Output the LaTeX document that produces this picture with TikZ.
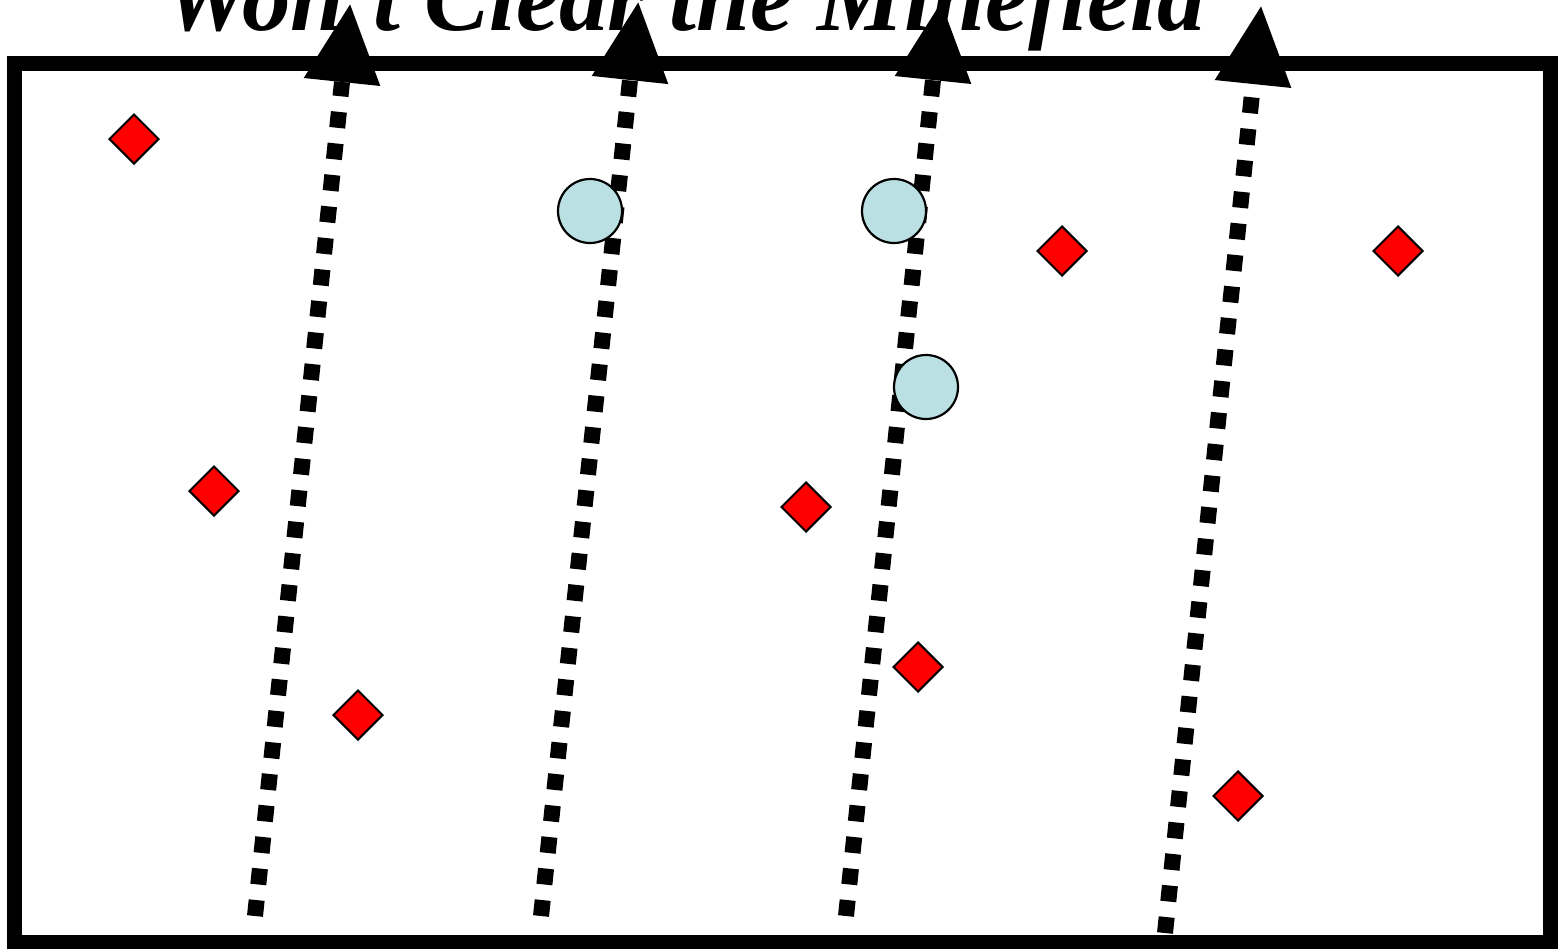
\documentclass[tikz,border=0pt]{standalone}
\usepackage{fontspec}
\setmainfont{Liberation Serif}
\usetikzlibrary{calc,shapes.geometric}
\definecolor{mineblue}{HTML}{BBE0E3}
\begin{document}
\begin{tikzpicture}[x=1pt,y=-1pt,
  frame/.style={line width=15pt},
  trail/.style={line width=16pt, dash pattern=on 16pt off 15.7pt},
  headtip/.style={fill=black},
  mine/.style={diamond, draw=black, line width=2pt, fill=red, inner sep=0pt, minimum size=50pt},
  buoy/.style={circle, draw=black, line width=2.2pt, fill=mineblue, inner sep=0pt, minimum size=64pt},
  titletext/.style={anchor=base west, inner sep=0pt, font=\fontsize{97}{100}\selectfont\bfseries\itshape}]
\useasboundingbox (0,0) rectangle (1565,948);
% frame
\draw[frame] (14.5,63) rectangle (1550.5,942.5);
% trail end points
\coordinate (a1) at (255,916);
\coordinate (b1) at (342,82);
\coordinate (a2) at (541,916);
\coordinate (b2) at (630,80);
\coordinate (a3) at (846,916);
\coordinate (b3) at (933,80);
\coordinate (a4) at (1165,933);
\coordinate (b4) at (1253,84);
% trails
\draw[trail] (a1) -- (b1);
\draw[trail] (a2) -- (b2);
\draw[trail] (a3) -- (b3);
\draw[trail] (a4) -- (b4);
% arrow heads
\fill[headtip] ($(b1)!-78pt!(a1)$) -- ($(b1)!38.5pt!90:(a1)$) -- ($(b1)!38.5pt!-90:(a1)$) -- cycle;
\fill[headtip] ($(b2)!-78pt!(a2)$) -- ($(b2)!38.5pt!90:(a2)$) -- ($(b2)!38.5pt!-90:(a2)$) -- cycle;
\fill[headtip] ($(b3)!-78pt!(a3)$) -- ($(b3)!38.5pt!90:(a3)$) -- ($(b3)!38.5pt!-90:(a3)$) -- cycle;
\fill[headtip] ($(b4)!-78pt!(a4)$) -- ($(b4)!38.5pt!90:(a4)$) -- ($(b4)!38.5pt!-90:(a4)$) -- cycle;
% title
\node[titletext] (title) at (163,30) {Won't Clear the Minefield};
% cleared positions
\node[buoy] (c1) at (590,211) {};
\node[buoy] (c2) at (894,211) {};
\node[buoy] (c3) at (926,387) {};
% mines
\node[mine] (m1) at (134,139) {};
\node[mine] (m2) at (214,491) {};
\node[mine] (m3) at (358,715) {};
\node[mine] (m4) at (806,507) {};
\node[mine] (m5) at (918,667) {};
\node[mine] (m6) at (1062,251) {};
\node[mine] (m7) at (1398,251) {};
\node[mine] (m8) at (1238,796) {};
\end{tikzpicture}
\end{document}
